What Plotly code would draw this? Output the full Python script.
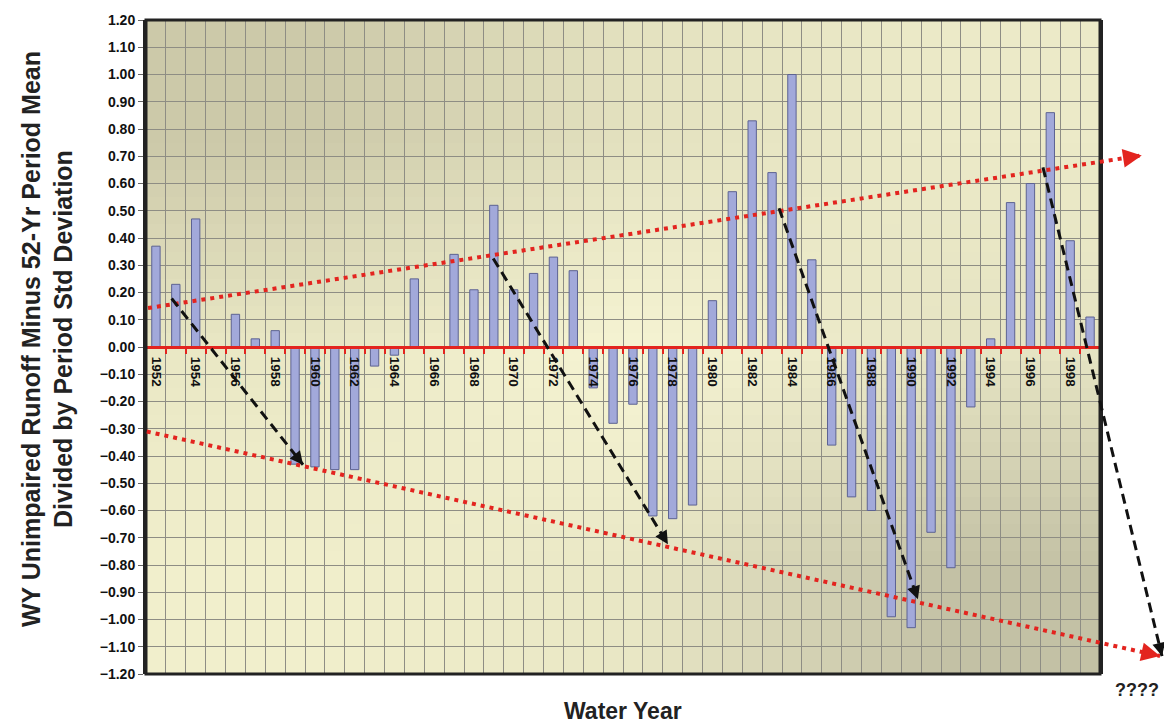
import base64
import struct
import zlib
import plotly.graph_objects as go

# ---------------- data ----------------
years = list(range(1952, 2000))
values = [0.37, 0.23, 0.47, 0.00, 0.12, 0.03, 0.06, -0.43, -0.44, -0.45,
          -0.45, -0.07, -0.03, 0.25, 0.00, 0.34, 0.21, 0.52, 0.21, 0.27,
          0.33, 0.28, -0.15, -0.28, -0.21, -0.62, -0.63, -0.58, 0.17, 0.57,
          0.83, 0.64, 1.00, 0.32, -0.36, -0.55, -0.60, -0.99, -1.03, -0.68,
          -0.81, -0.22, 0.03, 0.53, 0.60, 0.86, 0.39, 0.11]
label_years = years[::2]
label_text = [str(y) for y in label_years]

# hand-drawn guide lines (year, value) start -> end
trend_upper = [(1951.6, 0.143), (2001.6, 0.703)]
trend_lower = [(1951.54, -0.31), (2002.52, -1.134)]
drop_arrows = [
    [(1952.79, 0.178), (1959.4, -0.432)],
    [(1968.97, 0.325), (1977.76, -0.724)],
    [(1983.35, 0.509), (1990.34, -0.926)],
    [(1996.63, 0.659), (2002.62, -1.134)],
]

# ---------------- layout constants ----------------
W, H = 1164, 726
ML, MR, MT, MB = 146, 64, 18, 52
YMIN, YMAX = -1.2, 1.2
XMIN, XMAX = years[0] - 0.5, years[-1] + 0.5
plot_w = W - ML - MR
plot_h = H - MT - MB
px_per_year = plot_w / (XMAX - XMIN)
px_per_unit = plot_h / (YMAX - YMIN)

RED = "#E3241F"
GRID = "#8E8D84"
FONT = "Arial, Liberation Sans, sans-serif"


def to_paper(xv):
    return (xv - XMIN) / (XMAX - XMIN)


def make_png(rows):
    h = len(rows)
    w = len(rows[0])
    raw = b"".join(b"\x00" + bytes([c for px in row for c in px]) for row in rows)

    def chunk(tag, data):
        c = struct.pack(">I", len(data)) + tag + data
        return c + struct.pack(">I", zlib.crc32(tag + data) & 0xFFFFFFFF)

    png = b"\x89PNG\r\n\x1a\n"
    png += chunk(b"IHDR", struct.pack(">IIBBBBB", w, h, 8, 2, 0, 0, 0))
    png += chunk(b"IDAT", zlib.compress(raw, 9))
    png += chunk(b"IEND", b"")
    return "data:image/png;base64," + base64.b64encode(png).decode()


bg_rows = [
    [(0xCC, 0xC9, 0xA9), (0xE4, 0xE2, 0xC0), (0xEC, 0xEA, 0xC8)],
    [(0xEA, 0xE8, 0xC5), (0xF7, 0xF5, 0xD4), (0xE6, 0xE4, 0xC3)],
    [(0xF1, 0xEF, 0xCC), (0xE9, 0xE7, 0xC5), (0xC3, 0xC1, 0xA5)],
]
bg_src = make_png(bg_rows)

fig = go.Figure()
fig.add_trace(go.Bar(
    x=years, y=values, width=0.42,
    marker=dict(color="#A2A9DA", line=dict(color="#5D6392", width=1)),
    hoverinfo="x+y",
))

bounds = [y - 0.5 for y in years] + [years[-1] + 0.5]
zero_pos = (0 - YMIN) / (YMAX - YMIN)

fig.update_layout(
    width=W, height=H,
    margin=dict(l=ML, r=MR, t=MT, b=MB),
    paper_bgcolor="white",
    plot_bgcolor="rgba(0,0,0,0)",
    showlegend=False,
    images=[dict(source=bg_src, xref="paper", yref="paper", x=0, y=1,
                 sizex=1, sizey=1, sizing="stretch", layer="below",
                 xanchor="left", yanchor="top")],
    xaxis=dict(
        range=[XMIN, XMAX], anchor="free", position=zero_pos,
        showline=True, linecolor=RED, linewidth=3,
        tickmode="array", tickvals=label_years, ticktext=label_text,
        tickangle=90, ticks="outside", ticklen=5, tickcolor="rgba(0,0,0,0)",
        showgrid=False, zeroline=False,
        tickfont=dict(family=FONT, size=13.5, color="#111", weight="bold"),
        minor=dict(tickmode="array", tickvals=bounds, ticks="outside",
                   ticklen=5, tickwidth=2, tickcolor=RED,
                   showgrid=True, gridcolor=GRID, gridwidth=1),
    ),
    yaxis=dict(
        range=[YMIN, YMAX], tick0=0, dtick=0.1, tickformat=".2f",
        showgrid=True, gridcolor=GRID, gridwidth=1, zeroline=False,
        showline=True, linecolor="#222", linewidth=3, mirror=True,
        ticks="outside", ticklen=5, tickcolor="#666",
        tickfont=dict(family=FONT, size=14, color="#111", weight="bold"),
    ),
)

# plot frame
fig.add_shape(type="rect", xref="paper", yref="paper", x0=0, x1=1, y0=0, y1=1,
              line=dict(color="#222", width=3), layer="above")

def add_guide(pts, color, dash, width, head_size, head_w):
    (x0, y0), (x1, y1) = pts
    fig.add_shape(type="line", xref="paper", yref="y",
                  x0=to_paper(x0), y0=y0, x1=to_paper(x1), y1=y1,
                  line=dict(color=color, width=width, dash=dash), layer="above")
    dxp = (x0 - x1) * px_per_year
    dyp = -(y0 - y1) * px_per_unit
    n = (dxp ** 2 + dyp ** 2) ** 0.5
    L = 10
    fig.add_annotation(x=to_paper(x1), y=y1, xref="paper", yref="y",
                       ax=dxp / n * L, ay=dyp / n * L, text="",
                       showarrow=True, arrowhead=2, arrowsize=head_size,
                       arrowwidth=head_w, arrowcolor=color, standoff=0)

add_guide(trend_upper, RED, "4px,5px", 4, 1.5, 2.5)
add_guide(trend_lower, RED, "4px,5px", 4, 1.5, 2.5)
for a in drop_arrows:
    add_guide(a, "#111", "10px,6px", 3, 1.2, 2.2)

fig.add_annotation(
    text="<b>WY Unimpaired Runoff Minus 52-Yr Period Mean<br>Divided by Period Std Deviation</b>",
    xref="paper", yref="paper", x=(47 - ML) / plot_w, y=(H - MB - 338) / plot_h,
    textangle=-90, showarrow=False, xanchor="center", yanchor="middle",
    font=dict(family=FONT, size=25, color="#222"))
fig.add_annotation(
    text="<b>Water Year</b>", xref="paper", yref="paper", x=0.5,
    y=-(711 - (H - MB)) / plot_h, showarrow=False, xanchor="center", yanchor="middle",
    font=dict(family=FONT, size=23, color="#222"))
fig.add_annotation(
    text="<b>????</b>", xref="paper", yref="paper", x=(1137 - ML) / plot_w,
    y=-(690 - (H - MB)) / plot_h, showarrow=False, xanchor="center", yanchor="middle",
    font=dict(family=FONT, size=18, color="#222"))

fig.write_html(
    "out.html",
    config={"displayModeBar": False},
    post_script="document.body.style.margin='0px';document.body.style.overflow='hidden';",
)
